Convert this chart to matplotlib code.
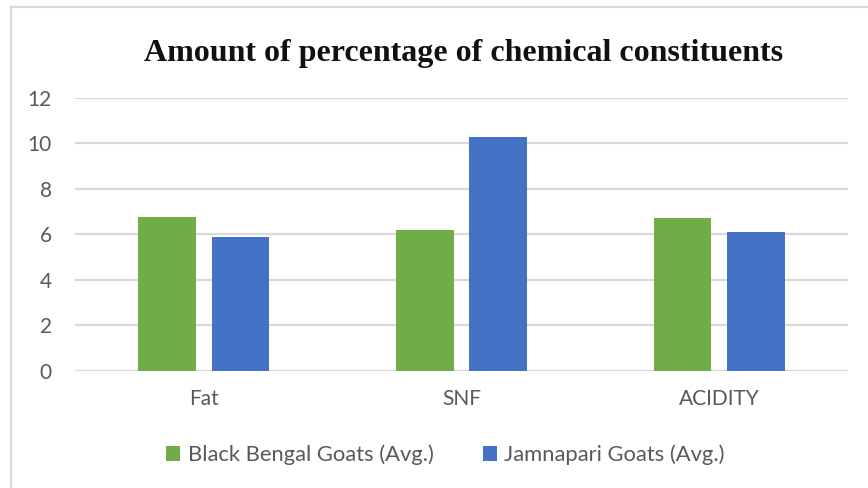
import matplotlib
matplotlib.use("Agg")
import matplotlib.pyplot as plt
from matplotlib.patches import Patch, Rectangle
import numpy as np

# --- Chart data ---
categories = ["Fat", "SNF", "ACIDITY"]
black_bengal = [6.77, 6.17, 6.70]
jamnapari = [5.89, 10.29, 6.08]
series_names = ["Black Bengal Goats (Avg.)", "Jamnapari Goats (Avg.)"]
yticks = [0, 2, 4, 6, 8, 10, 12]

GREEN = "#70AD47"
BLUE = "#4472C4"
GRID = "#D9D9D9"
TEXT = "#595959"
FS = 15

W, H = 868, 488
fig = plt.figure(figsize=(W / 100, H / 100), dpi=100)

# plot area in pixel coordinates
left, right, top, bottom = 75, 848, 97.7, 370.7
ax = fig.add_axes([left / W, 1 - bottom / H, (right - left) / W, (bottom - top) / H])

x = np.arange(len(categories))
width = 0.223
offset = 0.1425
ax.bar(x - offset, black_bengal, width, color=GREEN, zorder=3)
ax.bar(x + offset, jamnapari, width, color=BLUE, zorder=3)

ax.set_xlim(-0.5, len(categories) - 0.5)
ax.set_ylim(0, 12)
ax.set_yticks(yticks)
ax.set_xticks(x)
ax.set_xticklabels(categories)
ax.yaxis.grid(True, color=GRID, linewidth=1.6, zorder=0)
ax.set_axisbelow(True)
for s in ax.spines.values():
    s.set_visible(False)
ax.tick_params(axis="both", length=0, labelsize=FS, labelcolor=TEXT)
ax.tick_params(axis="y", pad=16.6)
ax.tick_params(axis="x", pad=13)
for lbl in ax.get_xticklabels() + ax.get_yticklabels():
    lbl.set_fontfamily("Lato")

# title
fig.text(464 / W, 1 - 61.5 / H, "Amount of percentage of chemical constituents",
         ha="center", va="baseline", fontsize=23, fontweight="bold",
         family="Liberation Serif", color="#111111")

# legend
handles = [Patch(facecolor=GREEN), Patch(facecolor=BLUE)]
fig.legend(handles, series_names, loc="center", bbox_to_anchor=(445.5 / W, 1 - 455 / H),
           ncol=2, frameon=False, handlelength=0.64, handleheight=0.64,
           handletextpad=0.33, columnspacing=2.25, borderpad=0, borderaxespad=0,
           prop={"family": "Lato", "size": 15.8}, labelcolor=TEXT)

# outer chart border
fig.patches.append(Rectangle((11 / W, -0.1), 1.2, 1.1 - 7 / H, transform=fig.transFigure,
                             fill=False, edgecolor=GRID, linewidth=1.6))

fig.savefig("out.png", dpi=100)
